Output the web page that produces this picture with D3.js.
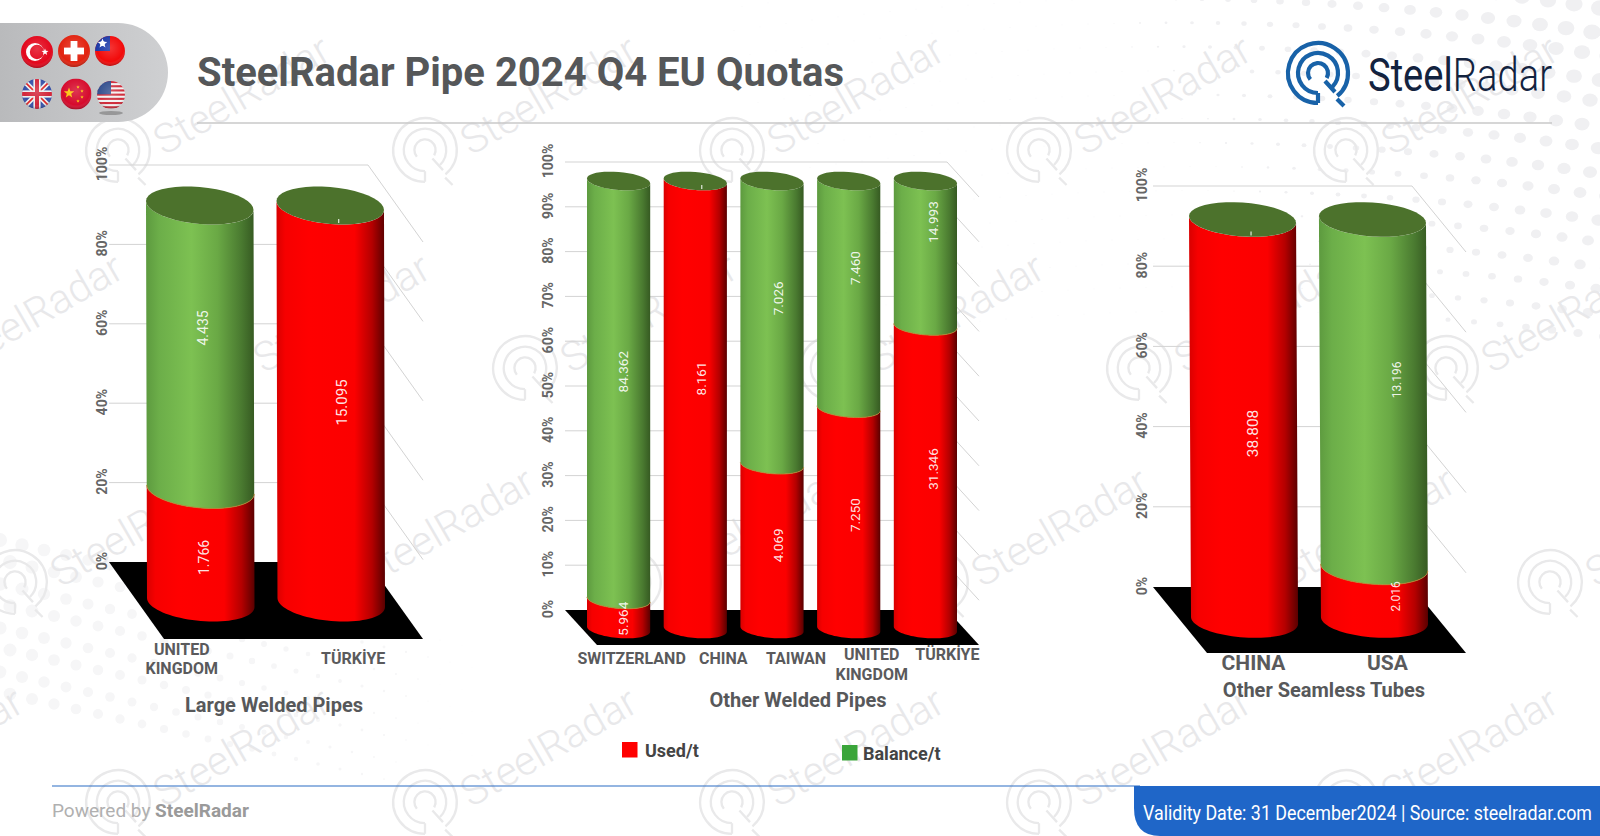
<!DOCTYPE html>
<html><head><meta charset="utf-8">
<script src="https://cdn.jsdelivr.net/npm/d3@7"></script>
<style>html,body{margin:0;padding:0;background:#fff;overflow:hidden}svg{display:block}text{font-family:Roboto,sans-serif}</style>
</head><body><svg id="c" width="1600" height="836"></svg>
<script>
// ---------- data ----------
const largeCategories=["UNITED KINGDOM","TÜRKİYE"];
const largeUsed=[1766,15095];
const largeBalance=[4435,0];
const otherCategories=["SWITZERLAND","CHINA","TAIWAN","UNITED KINGDOM","TÜRKİYE"];
const otherUsed=[5964,8161,4069,7250,31346];
const otherBalance=[84362,0,7026,7460,14993];
const seamlessCategories=["CHINA","USA"];
const seamlessUsed=[38808,2016];
const seamlessBalance=[0,13196];
const seriesNames=["Used/t","Balance/t"];
const chartTitles=["Large Welded Pipes","Other Welded Pipes","Other Seamless Tubes"];

const svg=d3.select("#c");
const defs=svg.append("defs");
const fmt=d3.formatLocale({decimal:",",thousands:".",grouping:[3],currency:["",""]}).format(",d");
function grad(id,stops){const g=defs.append("linearGradient").attr("id",id);stops.forEach(s=>g.append("stop").attr("offset",s[0]).attr("stop-color",s[1]));}
grad("gRed",[[0,"#d80000"],[.08,"#f60000"],[.3,"#ff0000"],[.72,"#fb0000"],[.88,"#b40000"],[1,"#5a0000"]]);
grad("gGreen",[[0,"#5d9a3f"],[.12,"#6cae49"],[.42,"#7dc152"],[.66,"#6aa945"],[.88,"#4a7a30"],[1,"#365a22"]]);
const pillG=defs.append("linearGradient").attr("id","gPill").attr("x1",0).attr("x2",1);
pillG.append("stop").attr("offset",0).attr("stop-color","#b9babc");pillG.append("stop").attr("offset",1).attr("stop-color","#cfd0d2");
const glossG=defs.append("radialGradient").attr("id","gloss").attr("cx",.5).attr("cy",.4).attr("r",.6);
glossG.append("stop").attr("offset",0).attr("stop-color","#fff").attr("stop-opacity",.18);
glossG.append("stop").attr("offset",.75).attr("stop-color","#fff").attr("stop-opacity",0);
glossG.append("stop").attr("offset",1).attr("stop-color","#000").attr("stop-opacity",.28);

// ---------- background decoration ----------
const bg=svg.append("g");
function radarMark(g,cx,cy,s,color,w){
  const m=g.append("g").attr("transform",`translate(${cx},${cy}) scale(${s})`).attr("fill","none").attr("stroke",color).attr("stroke-width",w);
  const a=(r,s0,e0)=>d3.arc()({innerRadius:r,outerRadius:r,startAngle:s0*Math.PI/180,endAngle:e0*Math.PI/180});
  m.append("path").attr("d",a(30,180,500));
  m.append("path").attr("d",a(20,180,495));
  m.append("path").attr("d",a(10,230,480));
  m.append("path").attr("d","M0,30V20M7,8L17,19M19,26L26,33");
}
const dots=bg.append("g").attr("fill","#f0f0f2");
for(let i=0;i<34;i++)for(let j=0;j<15;j++){
  const x=1600-i*26-(j%2)*12+j*4,y=8+j*24-i*4+i*i*.12;
  const r=Math.max(.5,9-i*.42-j*.22);
  dots.append("ellipse").attr("cx",x).attr("cy",y).attr("rx",r).attr("ry",r*.85);
}
const dots2=bg.append("g").attr("fill","#f6f6f7");
for(let i=0;i<22;i++)for(let j=0;j<8;j++){
  const x=i*22+(j%2)*10,y=540+j*22+i*5;
  const r=Math.max(.4,7-i*.32-j*.1);
  if(y<790)dots2.append("circle").attr("cx",x).attr("cy",y).attr("r",r);
}
const wm=bg.append("g");
[[118,150,0],[218,368,0],[15,582,0],[118,802,0]].forEach(row=>{
  for(let k=-1;k<6;k++){
    const x=row[0]+307*k,y=row[1];
    if(x<-240||x>1640)continue;
    radarMark(wm,x,y,1.06,"#e9e9ea",2.2);
    wm.append("text").attr("transform",`translate(${x+46},${y+6}) rotate(-30)`).attr("font-size",41).attr("font-weight",300).attr("fill","#e8e8ea").text("SteelRadar");
  }
});

// ---------- header ----------
svg.append("path").attr("d","M0,23H118A50,49.5 0 0 1 118,122H0Z").attr("fill","url(#gPill)");
const flags=svg.append("g");
function flag(cx,cy,r,draw){
  const id="f"+Math.round(cx)+"_"+Math.round(cy);
  defs.append("clipPath").attr("id",id).append("circle").attr("cx",cx).attr("cy",cy).attr("r",r);
  const g=flags.append("g").attr("clip-path",`url(#${id})`);
  draw(g,cx,cy,r);
  g.append("circle").attr("cx",cx).attr("cy",cy).attr("r",r).attr("fill","url(#gloss)");
}
const star=(cx,cy,r)=>d3.range(10).map(i=>{const a=i*Math.PI/5-Math.PI/2,q=i%2?r*.42:r;return [cx+q*Math.cos(a),cy+q*Math.sin(a)].join(",")}).join(" ");
const R=(g,x,y,w,h,c)=>g.append("rect").attr("x",x).attr("y",y).attr("width",w).attr("height",h).attr("fill",c);
flag(37,52,16,(g,x,y,r)=>{R(g,x-r,y-r,2*r,2*r,"#e3071c");
  g.append("circle").attr("cx",x-2).attr("cy",y).attr("r",9).attr("fill","#fff");
  g.append("circle").attr("cx",x).attr("cy",y).attr("r",7.2).attr("fill","#e3071c");
  g.append("polygon").attr("points",star(x+8,y,3.6)).attr("fill","#fff");});
flag(74,51,16,(g,x,y,r)=>{R(g,x-r,y-r,2*r,2*r,"#e2220f");R(g,x-3.4,y-10,6.8,20,"#fff");R(g,x-10,y-3.4,20,6.8,"#fff");});
flag(110,51,15,(g,x,y,r)=>{R(g,x-r,y-r,2*r,2*r,"#f20a0a");R(g,x-r,y-r,r,r,"#1d3aa8");
  g.append("polygon").attr("points",star(x-r/2,y-r/2,5)).attr("fill","#fff");g.append("circle").attr("cx",x-r/2).attr("cy",y-r/2).attr("r",2.4).attr("fill","#fff");});
flag(37,94,15,(g,x,y,r)=>{R(g,x-r,y-r,2*r,2*r,"#3550a8");
  g.append("path").attr("d",`M${x-r},${y-r}L${x+r},${y+r}M${x+r},${y-r}L${x-r},${y+r}`).attr("stroke","#eee").attr("stroke-width",5);
  g.append("path").attr("d",`M${x-r},${y-r}L${x+r},${y+r}M${x+r},${y-r}L${x-r},${y+r}`).attr("stroke","#d22",).attr("stroke-width",1.6);
  R(g,x-3.6,y-r,7.2,2*r,"#eee");R(g,x-r,y-3.6,2*r,7.2,"#eee");R(g,x-2,y-r,4,2*r,"#d3263a");R(g,x-r,y-2,2*r,4,"#d3263a");});
flag(76,94,15.5,(g,x,y,r)=>{R(g,x-r,y-r,2*r,2*r,"#d60a2c");
  g.append("polygon").attr("points",star(x-7,y-1,5.5)).attr("fill","#fcc40a");
  [[2,-7],[6,-3],[6,3],[2,7]].forEach(p=>g.append("polygon").attr("points",star(x+p[0],y+p[1],1.8)).attr("fill","#fcc40a"));});
flag(111,95,14,(g,x,y,r)=>{R(g,x-r,y-r,2*r,2*r,"#f2f2f2");
  d3.range(0,7).forEach(i=>R(g,x-r,y-r+i*4.2,2*r,2.1,"#cf2b3a"));R(g,x-r,y-r,r,r*.95,"#35508f");});
svg.append("ellipse").attr("cx",111).attr("cy",113).attr("rx",12).attr("ry",2).attr("fill","#777").attr("opacity",.6);

svg.append("text").attr("x",197).attr("y",86).attr("font-size",40).attr("font-weight",700).attr("fill","#555759").text("SteelRadar Pipe 2024 Q4 EU Quotas");
svg.append("line").attr("x1",197).attr("x2",1552).attr("y1",123).attr("y2",123).attr("stroke","#c8c8c8").attr("stroke-width",1.5);
radarMark(svg,1318,73,1,"#1862a8",4.2);
const lt=svg.append("text").attr("x",1368).attr("y",91).attr("font-size",46).attr("fill","#13233f").attr("font-family","'Open Sans',sans-serif").attr("textLength",184).attr("lengthAdjust","spacingAndGlyphs");
lt.append("tspan").attr("font-weight",400).text("Steel");
lt.append("tspan").attr("font-weight",300).text("Radar");

// ---------- cylinders ----------
function drawChart(cfg){
  const g=svg.append("g");
  const y=d3.scaleLinear().domain([0,100]).range([cfg.floorY,cfg.topY]);
  const x=d3.scaleBand().domain(cfg.categories).range(cfg.barRange).paddingInner(.176).paddingOuter(0);
  const W=cfg.wallLeft,E=cfg.wallRight;
  g.append("polygon").attr("fill","#000").attr("points",[[W,y(0)],[E,y(0)],[E+cfg.dx,y(0)+cfg.dy],[W+cfg.dx,y(0)+cfg.dy]].join(" "));
  const ticks=d3.range(0,101,cfg.step);
  g.append("g").selectAll("path").data(ticks.filter(t=>t>0)).join("path")
    .attr("d",t=>`M${W},${y(t)}H${E}L${E+cfg.dx},${y(t)+cfg.dy}`).attr("fill","none").attr("stroke","#d3d3d3").attr("stroke-width",1);
  const ax=g.append("g").attr("transform",`translate(${cfg.tickX},0)`).call(d3.axisLeft(y).tickValues(ticks).tickSize(0).tickFormat(d=>d+"%"));
  ax.select(".domain").remove();
  ax.selectAll("text").attr("transform","rotate(-90)").attr("x",0).attr("y",0).attr("dy","0.35em").attr("dx",null)
    .attr("text-anchor","middle").attr("font-family","Roboto,sans-serif").attr("font-size",14).attr("font-weight",700).attr("fill","#666");
  ax.selectAll(".tick").each(function(d){d3.select(this).attr("transform",`translate(0,${y(d)-1})`)});
  const bw=x.bandwidth(),rx=bw/2;
  const tiltHalf=cfg.tilt/2;
  const ring=(cx,cy,t)=>[cx+rx*Math.cos(t),cy+cfg.ry*Math.sin(t)+tiltHalf*Math.cos(t)];
  const arcPts=(cx,cy,a,b)=>d3.range(0,41).map(i=>ring(cx,cy,a+(b-a)*i/40));
  cfg.categories.forEach((c,i)=>{
    const total=cfg.used[i]+cfg.balance[i],p=cfg.used[i]/total*100;
    const cxAt=v=>x(c)+bw/2+(100-v)/100*cfg.skew;
    const cyAt=v=>y(v)+cfg.offset+tiltHalf;
    const body=(v0,v1,fill)=>{
      const pts=arcPts(cxAt(v1),cyAt(v1),Math.PI,0).concat(arcPts(cxAt(v0),cyAt(v0),0,Math.PI));
      g.append("path").attr("d",d3.line()(pts)+"Z").attr("fill",`url(#${fill})`);
    };
    if(cfg.used[i]>0)body(0,p,"gRed");
    if(cfg.balance[i]>0){
      body(p,100,"gGreen");
      g.append("path").attr("d",d3.line()(arcPts(cxAt(p),cyAt(p),Math.PI,0))).attr("fill","none").attr("stroke","#b5822f").attr("stroke-width",.9);
    }
    g.append("path").attr("d",d3.line()(arcPts(cxAt(100),cyAt(100),0,2*Math.PI))+"Z").attr("fill","#4c722c");
    if(cfg.balance[i]===0){
      g.append("rect").attr("x",cxAt(100)+cfg.capTick).attr("y",cyAt(100)+cfg.ry-5).attr("width",1).attr("height",4).attr("fill","#fff");
    }
    const lab=(val,v0,v1,o)=>{
      if(!val)return;
      const ly=(y(v0)+y(v1))/2+cfg.offset+o[1],lx=x(c)+bw/2+o[0];
      g.append("text").attr("transform",`translate(${lx},${ly}) rotate(-90)`).attr("text-anchor","middle").attr("dy","0.35em")
       .attr("font-family","'Liberation Sans',Arial,sans-serif").attr("font-size",o[2]).attr("fill","#fff").attr("fill-opacity",.9).text(fmt(val));
    };
    lab(cfg.used[i],0,p,cfg.usedLabel[i]);
    lab(cfg.balance[i],p,100,cfg.balLabel[i]);
    const lines=cfg.wrap&&c.includes(" ")?c.split(" "):[c];
    const lx=x(c)+bw/2+cfg.catDx[i];
    lines.forEach((ln,k)=>{
      g.append("text").attr("x",lx).attr("y",cfg.catY+(lines.length>1?(k-.5)*cfg.catLead+cfg.twoLineDy:cfg.catOneDy[i]||0)).attr("dy","0.35em")
       .attr("text-anchor","middle").attr("font-size",cfg.catSize).attr("font-weight",700).attr("fill","#5a5a5c").text(ln);
    });
  });
  g.append("text").attr("x",cfg.titleX).attr("y",cfg.titleY).attr("dy","0.35em").attr("text-anchor","middle")
   .attr("font-size",20).attr("font-weight",700).attr("fill","#57585a").text(cfg.title);
}
drawChart({categories:largeCategories,used:largeUsed,balance:largeBalance,title:chartTitles[0],
  barRange:[146,384],topY:165,floorY:562,wallLeft:109,wallRight:368,dx:55,dy:77,tickX:102,step:20,offset:36,tilt:9,ry:18.5,skew:1,capTick:8,
  usedLabel:[[4,16,14],[12,3,15]],balLabel:[[3,-15,14],[0,0,14]],
  wrap:true,catDx:[-18,23],catY:658,catLead:19,twoLineDy:1,catOneDy:[0,0],catSize:16,titleX:274,titleY:705});
drawChart({categories:otherCategories,used:otherUsed,balance:otherBalance,title:chartTitles[1],
  barRange:[587,957],topY:162,floorY:610,wallLeft:565,wallRight:947,dx:32,dy:35,tickX:548,step:10,offset:16.5,tilt:5,ry:9,skew:0,capTick:6,
  usedLabel:[[5,7,13.5],[6,-24,13.5],[6,1,13.5],[7,-1,13.5],[8,-6,13.5]],
  balLabel:[[5,-16,13.5],[0,0,13.5],[6,-22,13.5],[7,-24,13.5],[8,-29,13.5]],
  wrap:true,catDx:[13,28,24,23,22],catY:658,catLead:20,twoLineDy:6,catOneDy:[0,0,0,0,-4],catSize:16,titleX:798,titleY:700});
drawChart({categories:seamlessCategories,used:seamlessUsed,balance:seamlessBalance,title:chartTitles[2],
  barRange:[1189,1426],topY:186,floorY:587,wallLeft:1153,wallRight:1412,dx:54,dy:66,tickX:1142,step:20,offset:30,tilt:7,ry:17,skew:2,capTick:8,
  usedLabel:[[10,17,15.5],[23,6,12]],balLabel:[[0,0,13],[24,-10,12]],
  wrap:false,catDx:[11,15],catY:663,catLead:0,twoLineDy:0,catOneDy:[0,0],catSize:21,titleX:1324,titleY:690});

// ---------- legend ----------
const legendColors=["#ff0000","#3aa53a"];
const legendX=[[622,645],[842,863]],legendY=[742,745];
seriesNames.forEach((n,i)=>{
  svg.append("rect").attr("x",legendX[i][0]).attr("y",legendY[i]).attr("width",15.5).attr("height",15.5).attr("fill",legendColors[i]);
  svg.append("text").attr("x",legendX[i][1]).attr("y",legendY[i]+15).attr("font-family","'Open Sans',sans-serif").attr("font-size",18).attr("font-weight",700).attr("fill","#444").text(n);
});

// ---------- footer ----------
svg.append("line").attr("x1",52).attr("x2",1140).attr("y1",786).attr("y2",786).attr("stroke","#2a6cc4").attr("stroke-width",1.2);
svg.append("path").attr("d","M1134,786H1600V836H1160Q1134,836 1134,808Z").attr("fill","#1f66c8");
const pw=svg.append("text").attr("x",52).attr("y",817).attr("font-size",19).attr("fill","#b0b0b0");
pw.append("tspan").text("Powered by ");
pw.append("tspan").attr("font-weight",700).attr("fill","#9a9a9a").text("SteelRadar");
svg.append("text").attr("x",1143).attr("y",820).attr("font-size",21).attr("fill","#fff").attr("textLength",449).attr("lengthAdjust","spacingAndGlyphs").text("Validity Date: 31 December2024 | Source: steelradar.com");
</script></body></html>
